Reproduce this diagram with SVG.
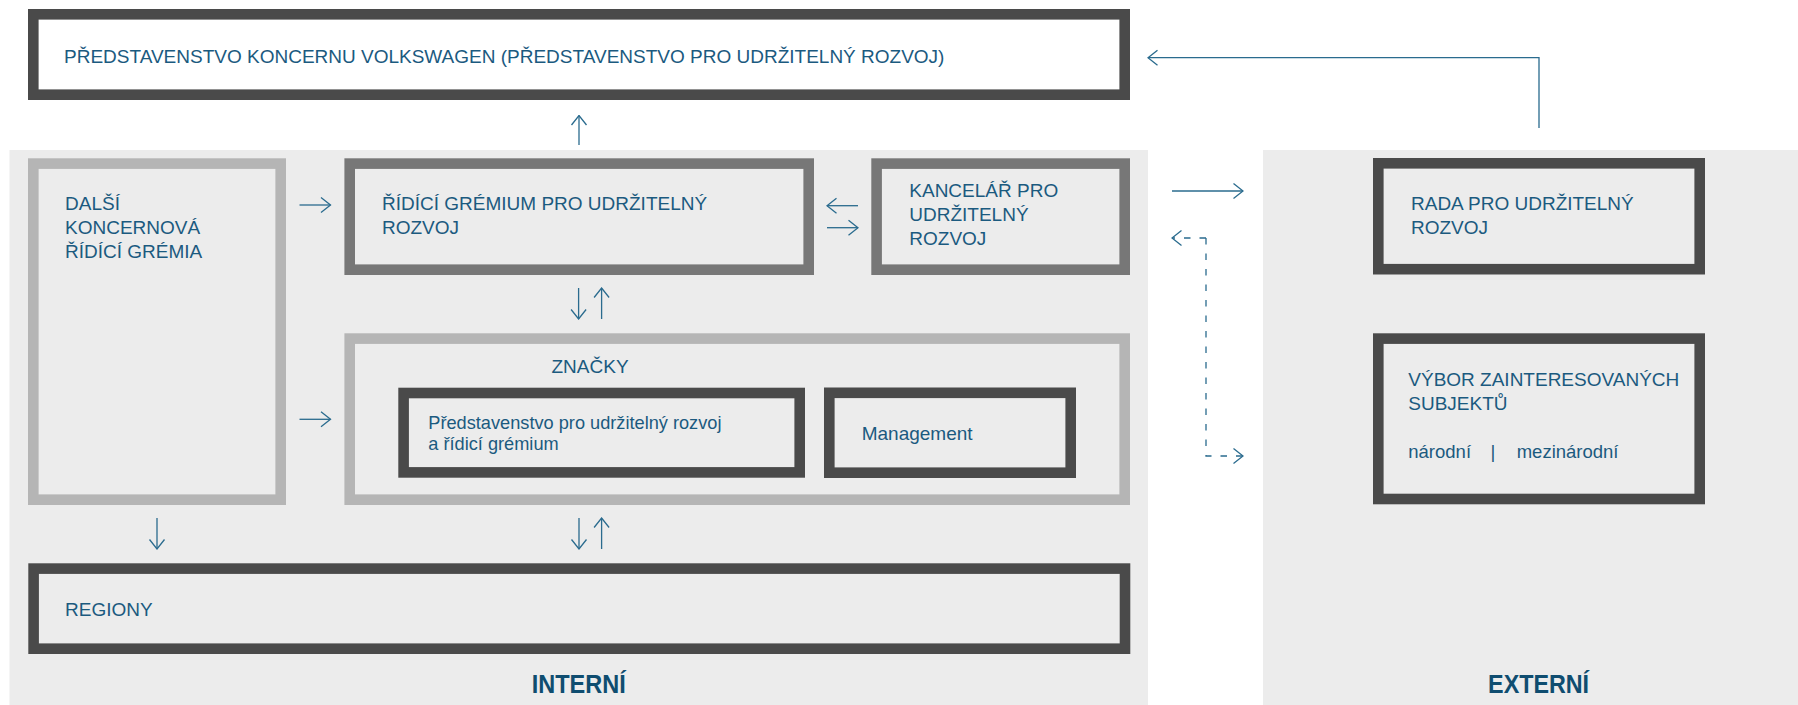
<svg xmlns="http://www.w3.org/2000/svg" width="1798" height="705" viewBox="0 0 1798 705">
<style>
.t{font-family:"Liberation Sans",Arial,sans-serif;font-size:19px;fill:#1b5a7f}
.s{font-family:"Liberation Sans",Arial,sans-serif;font-size:18.5px;fill:#1b5a7f}
.b{font-family:"Liberation Sans",Arial,sans-serif;font-size:26px;font-weight:bold;fill:#0f4d70}
.dk{fill:#ececec;stroke:#4a4a4a;stroke-width:10.6}
.md{fill:#ececec;stroke:#777777;stroke-width:10.6}
.lt{fill:#ececec;stroke:#b5b5b5;stroke-width:10.6}
.c{fill:none;stroke:#2a6b8e;stroke-width:1.3}
.d{stroke-dasharray:6.5 9}
</style>
<defs>
<marker id="ah" viewBox="-11 -9 12 18" refX="0" refY="0" markerWidth="12" markerHeight="18" markerUnits="userSpaceOnUse" orient="auto">
<path d="M-9.5,-7.5 L0,0 L-9.5,7.5" fill="none" stroke="#2a6b8e" stroke-width="1.3"/>
</marker>
</defs>
<g id="backgrounds">
<rect x="9.5" y="150" width="1138.5" height="555" fill="#ececec"/>
<rect x="1263" y="150" width="535" height="555" fill="#ececec"/>
</g>
<g id="top-board">
<rect x="33.3" y="14.3" width="1091.4" height="80.4" class="dk" fill="#ffffff" style="fill:#ffffff"/>
<text class="t" x="64" y="62.5">PŘEDSTAVENSTVO KONCERNU VOLKSWAGEN (PŘEDSTAVENSTVO PRO UDRŽITELNÝ ROZVOJ)</text>
</g>
<g id="dalsi">
<rect x="33.3" y="163.6" width="247.4" height="336.1" class="lt"/>
<text class="t" x="65" y="210">DALŠÍ</text>
<text class="t" x="65" y="233.8">KONCERNOVÁ</text>
<text class="t" x="65" y="257.6">ŘÍDÍCÍ GRÉMIA</text>
</g>
<g id="ridici-gremium">
<rect x="349.7" y="163.6" width="459" height="106.1" class="md"/>
<text class="t" x="382" y="210">ŘÍDÍCÍ GRÉMIUM PRO UDRŽITELNÝ</text>
<text class="t" x="382" y="233.8">ROZVOJ</text>
</g>
<g id="kancelar">
<rect x="876.6" y="163.6" width="248.1" height="106.1" class="md"/>
<text class="t" x="909.3" y="196.7">KANCELÁŘ PRO</text>
<text class="t" x="909.3" y="220.7">UDRŽITELNÝ</text>
<text class="t" x="909.3" y="244.7">ROZVOJ</text>
</g>
<g id="znacky">
<rect x="349.7" y="338.6" width="775" height="161.1" class="lt"/>
<text class="t" x="551.5" y="373.3">ZNAČKY</text>
</g>
<g id="predstavenstvo-znacky">
<rect x="403.6" y="393" width="396.1" height="79.4" class="dk"/>
<text class="s" x="428.3" y="429.3" style="font-size:18.2px">Představenstvo pro udržitelný rozvoj</text>
<text class="s" x="428.3" y="450.3" style="font-size:18.2px">a řídicí grémium</text>
</g>
<g id="management">
<rect x="829.3" y="392.8" width="241.4" height="79.9" class="dk"/>
<text class="s" x="861.7" y="440" style="font-size:19px">Management</text>
</g>
<g id="regiony">
<rect x="33.6" y="568.6" width="1091.4" height="80.1" class="dk"/>
<text class="t" x="65" y="616">REGIONY</text>
</g>
<g id="rada">
<rect x="1378.3" y="163.3" width="321.4" height="105.9" class="dk"/>
<text class="t" x="1411" y="210">RADA PRO UDRŽITELNÝ</text>
<text class="t" x="1411" y="233.5">ROZVOJ</text>
</g>
<g id="vybor">
<rect x="1378.3" y="338.6" width="321.4" height="160.4" class="dk"/>
<text class="t" x="1408.3" y="386">VÝBOR ZAINTERESOVANÝCH</text>
<text class="t" x="1408.3" y="410">SUBJEKTŮ</text>
<text class="s" x="1408.3" y="458.3">národní</text>
<text class="s" x="1490.5" y="458.3">|</text>
<text class="s" x="1516.7" y="458.3">mezinárodní</text>
</g>
<g id="labels">
<text class="b" x="578.7" y="693.3" text-anchor="middle" textLength="94" lengthAdjust="spacingAndGlyphs">INTERNÍ</text>
<text class="b" x="1538.6" y="693.3" text-anchor="middle" textLength="101" lengthAdjust="spacingAndGlyphs">EXTERNÍ</text>
</g>
<g id="connectors">
<path class="c" d="M579,145 V115.5" marker-end="url(#ah)"/>
<path class="c" d="M1539,128 V57.7 H1148" marker-end="url(#ah)"/>
<path class="c" d="M299.5,205 H330.5" marker-end="url(#ah)"/>
<path class="c" d="M299.5,419.3 H330.5" marker-end="url(#ah)"/>
<path class="c" d="M858,205.7 H827" marker-end="url(#ah)"/>
<path class="c" d="M827,227.7 H858" marker-end="url(#ah)"/>
<path class="c" d="M578.6,288 V319" marker-end="url(#ah)"/>
<path class="c" d="M601.6,319 V288" marker-end="url(#ah)"/>
<path class="c" d="M157,518 V549" marker-end="url(#ah)"/>
<path class="c" d="M579,518 V549" marker-end="url(#ah)"/>
<path class="c" d="M601.6,549 V518" marker-end="url(#ah)"/>
<path class="c" d="M1172,191 H1243" marker-end="url(#ah)"/>
<path class="c d" d="M1206,238 V456 H1243" marker-end="url(#ah)"/>
<path class="c d" d="M1206,238 H1172" marker-end="url(#ah)"/>
</g>
</svg>
